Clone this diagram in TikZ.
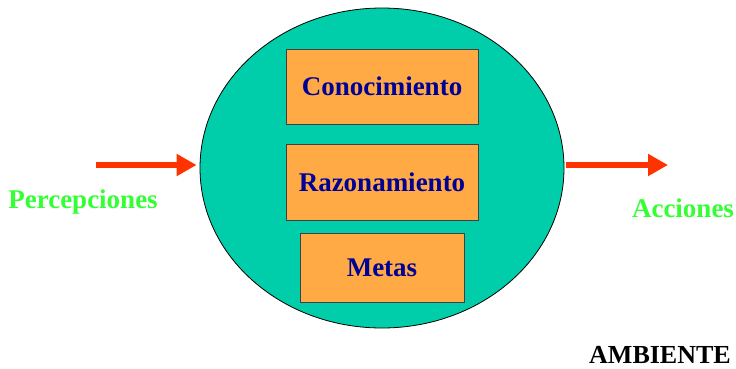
\documentclass[tikz,border=0pt]{standalone}
\usepackage{fontspec}
\setmainfont{Liberation Serif}
\usetikzlibrary{calc,shapes.geometric,arrows.meta}

\definecolor{agentfill}{RGB}{0,206,170}
\definecolor{boxfill}{RGB}{255,170,68}
\definecolor{boxtext}{RGB}{0,0,150}
\definecolor{labelgreen}{RGB}{51,255,51}
\definecolor{arrowred}{RGB}{255,51,0}

\begin{document}
\begin{tikzpicture}[x=1pt,y=-1pt]
     \tikzstyle{module}=[draw=black!75, fill=boxfill, line width=0.9pt, inner sep=0pt,
       font=\fontsize{27}{30}\selectfont\bfseries, text=boxtext]

     \tikzstyle{io}=[font=\fontsize{27}{30}\selectfont\bfseries, text=labelgreen, inner sep=0pt]

     \tikzstyle{flow}=[arrowred, line width=6pt, -{Triangle[length=20pt,width=21pt]}]

     \useasboundingbox (0,0) rectangle (736,368);

     \node[ellipse, draw, fill=agentfill, line width=0.8pt, inner sep=0pt,
       minimum width=364pt, minimum height=320pt] (agente) at (382,168) {};

     \node[module, minimum width=192pt, minimum height=75pt] (conocimiento) at (382,86.5) {Conocimiento};
     \node[module, minimum width=192pt, minimum height=76pt] (razonamiento) at (382,182) {Razonamiento};
     \node[module, minimum width=164pt, minimum height=69pt] (metas) at (382,267.5) {Metas};

     \node[io] (percepciones) at (83,202) {Percepciones};
     \node[io] (acciones) at (683,208) {Acciones};
     \node[font=\fontsize{26}{30}\selectfont\bfseries, inner sep=0pt] (ambiente) at (660,355) {AMBIENTE};

     \coordinate (entrada) at (96,165);
     \coordinate (salida) at (668,165);

     \draw[flow] (entrada) -- ($(agente.west) + (-3,-3)$);
     \draw[flow] ($(agente.east) + (2,-3)$) -- (salida);
\end{tikzpicture}
\end{document}
